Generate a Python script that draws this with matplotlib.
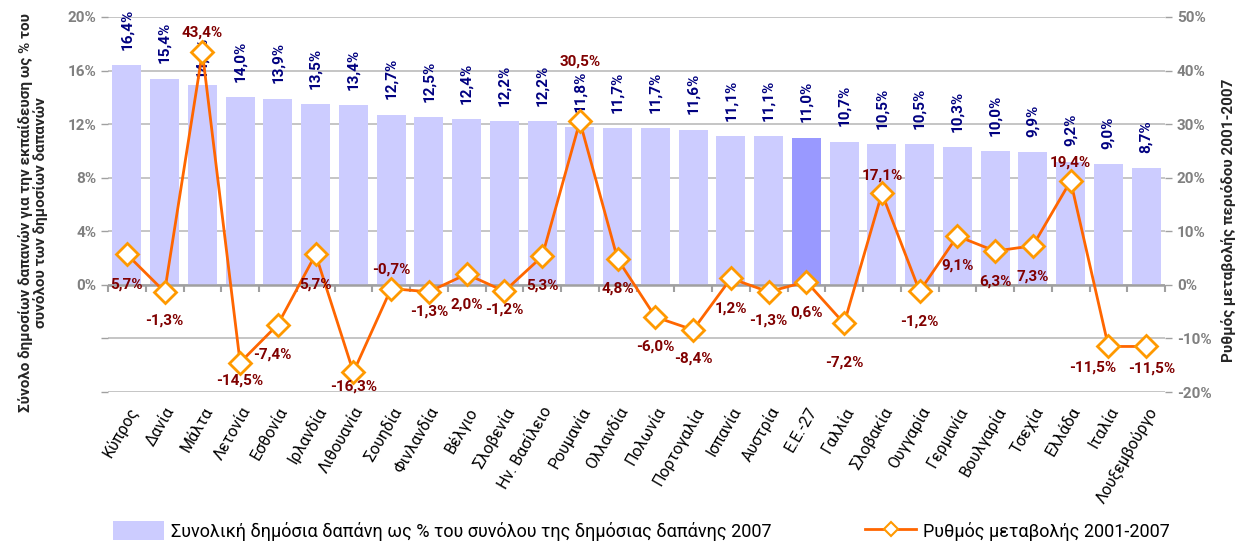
import matplotlib
matplotlib.use("Agg")
import matplotlib.pyplot as plt
import numpy as np
from matplotlib.lines import Line2D
from matplotlib.patches import Patch

plt.rcParams['font.family'] = ['Roboto', 'Noto Sans', 'DejaVu Sans']

countries = ["Κύπρος", "Δανία", "Μάλτα", "Λετονία", "Εσθονία", "Ιρλανδία", "Λιθουανία",
             "Σουηδία", "Φινλανδία", "Βέλγιο", "Σλοβενία", "Ην. Βασίλειο", "Ρουμανία",
             "Ολλανδία", "Πολωνία", "Πορτογαλία", "Ισπανία", "Αυστρία", "Ε.Ε.-27", "Γαλλία",
             "Σλοβακία", "Ουγγαρία", "Γερμανία", "Βουλγαρία", "Τσεχία", "Ελλάδα", "Ιταλία",
             "Λουξεμβούργο"]
share_2007 = [16.4, 15.4, 14.9, 14.0, 13.9, 13.5, 13.4, 12.7, 12.5, 12.4, 12.2, 12.2, 11.8,
              11.7, 11.7, 11.6, 11.1, 11.1, 11.0, 10.7, 10.5, 10.5, 10.3, 10.0, 9.9, 9.2,
              9.0, 8.7]
change_2001_2007 = [5.7, -1.3, 43.4, -14.5, -7.4, 5.7, -16.3, -0.7, -1.3, 2.0, -1.2, 5.3,
                    30.5, 4.8, -6.0, -8.4, 1.2, -1.3, 0.6, -7.2, 17.1, -1.2, 9.1, 6.3, 7.3,
                    19.4, -11.5, -11.5]
highlight = "Ε.Ε.-27"
left_ticks = [-8, -4, 0, 4, 8, 12, 16, 20]
right_ticks = [-20, -10, 0, 10, 20, 30, 40, 50]

# label offsets for line labels (points)
line_label_dy = [-22, -21, 14, -13, -22, -22, -10, 14, -14, -22, -13, -21,
                 43, -21, -21, -21, -22, -21, -22, -28, 13, -22, -21, -22, -22,
                 13, -15, -16]
line_label_dx = [0, 0, 0, 0, -4, 0, 0, 0, 0, 0, 0, 0, 0, 0, 0, 0, 0, 0, 0, 0, 0, 0, 0, 0, 0, 0,
                 -11, 4]

def pct(v):
    return f"{v:.1f}%".replace(".", ",")

fig = plt.figure(figsize=(12.41, 5.44), dpi=100)
ax = fig.add_axes([108/1241, 1-392/544, (1165-108)/1241, (392-17)/544])
ax2 = ax.twinx()

x = np.arange(len(countries))
bar_colors = ["#9999FF" if c == highlight else "#CCCCFF" for c in countries]
ax.bar(x, share_2007, width=0.77, color=bar_colors, zorder=2)
ax.set_ylim(-8, 20)
ax.set_xlim(-0.5, len(countries) - 0.5)
ax.set_yticks(left_ticks)
ax.set_yticklabels([f"{t}%" if t >= 0 else "" for t in left_ticks])
ax.grid(axis='y', color="#C0C0C0", lw=1.3, zorder=0)
ax.set_axisbelow(True)

ax2.set_ylim(-20, 50)
ax2.set_yticks(right_ticks)
ax2.set_yticklabels([f"{t}%" for t in right_ticks])

for a in (ax, ax2):
    for s in a.spines.values():
        s.set_visible(False)
    a.tick_params(axis='y', length=5, color="#A0A0A0", labelcolor="#808080",
                  labelsize=11, width=1)
for lbl in ax.get_yticklabels() + ax2.get_yticklabels():
    lbl.set_fontweight('bold')

ax.set_zorder(ax2.get_zorder() - 1)
ax2.patch.set_visible(False)

ax.axhline(0, color="#A0A0A0", lw=1.8, zorder=2.5)
sec = ax.secondary_xaxis(8/28)
sec.set_xticks(np.arange(len(countries) + 1) - 0.5)
sec.set_xticklabels([])
sec.tick_params(length=5, width=1.5, color="#A0A0A0")
sec.spines['bottom'].set_visible(False)

ax.set_xticks(x)
ax.set_xticklabels(countries, rotation=60, ha='right', rotation_mode='anchor',
                   fontsize=11.5, color="#000000")
ax.tick_params(axis='x', length=0, pad=9)

for i, v in enumerate(share_2007):
    off = 5 if countries[i] == "Μάλτα" else 11
    ax.annotate(pct(v), (x[i], v), xytext=(0, off), textcoords='offset points',
                rotation=90, ha='center', va='bottom', color="#000080",
                fontsize=11, fontweight='bold', zorder=3)

ax2.plot(x, change_2001_2007, color="#FF6600", lw=2, zorder=3,
         marker='D', markersize=11, markerfacecolor='white',
         markeredgecolor='#FF9900', markeredgewidth=2)
for i, v in enumerate(change_2001_2007):
    ax2.annotate(pct(v), (x[i], v), xytext=(line_label_dx[i], line_label_dy[i]),
                 textcoords='offset points', ha='center', va='center',
                 color="#800000", fontsize=11, fontweight='bold', zorder=4)

fig.text(33/1241, 1-213/544,
         "Σύνολο δημοσίων δαπανών για την εκπαίδευση ως % του\nσυνόλου των δημοσίων δαπανών",
         rotation=90, ha='center', va='center', fontsize=11, fontweight='bold',
         color="#262626", multialignment='center', linespacing=1.05)
fig.text(1228/1241, 1-220/544, "Ρυθμός μεταβολής περιόδου 2001-2007",
         rotation=90, ha='center', va='center', fontsize=11, fontweight='bold',
         color="#262626")

handles = [Patch(facecolor="#CCCCFF", edgecolor="none"),
           Line2D([0], [0], color="#FF6600", lw=2, marker='D', markersize=7,
                  markerfacecolor='white', markeredgecolor='#FF9900', markeredgewidth=1.5)]
labels = ["Συνολική δημόσια δαπάνη ως % του συνόλου της δημόσιας δαπάνης 2007",
          "Ρυθμός μεταβολής 2001-2007"]
fig.legend(handles, labels, loc='center', bbox_to_anchor=(0.517, 1-531/544), ncol=2,
           frameon=False, fontsize=13, handlelength=2.8, handleheight=1.2,
           columnspacing=5.2, handletextpad=0.4)

fig.savefig("out.png", dpi=100)
